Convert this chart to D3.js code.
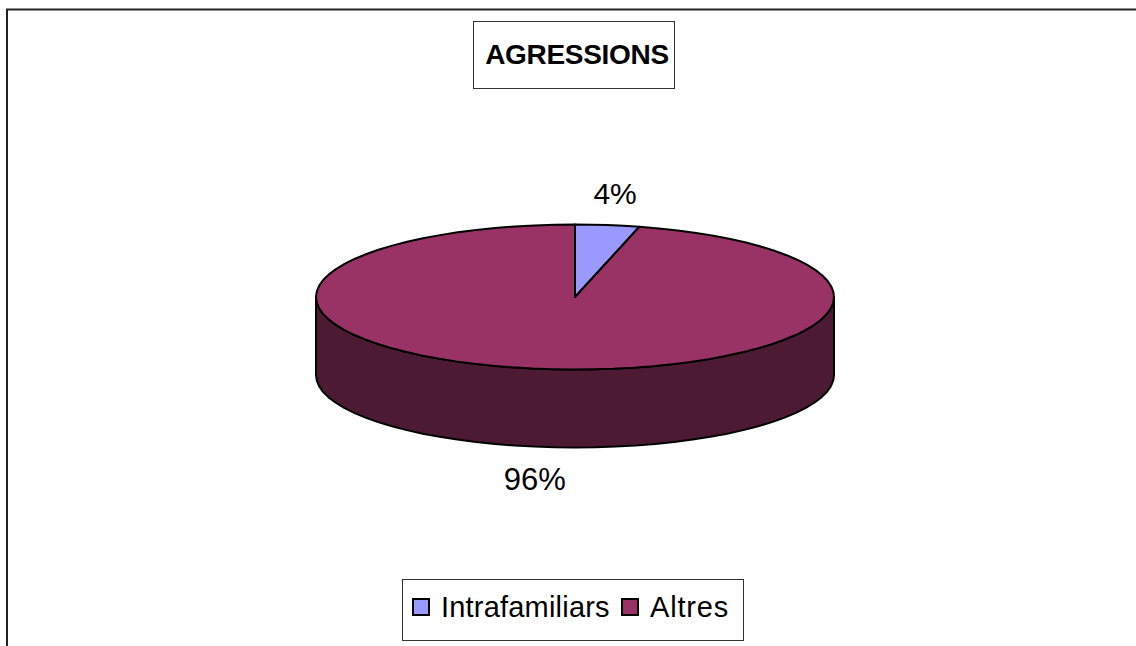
<!DOCTYPE html>
<html>
<head>
<meta charset="utf-8">
<script src="https://cdn.jsdelivr.net/npm/d3@7"></script>
<style>
  html, body { margin: 0; padding: 0; background: #fff; }
  svg { display: block; }
</style>
</head>
<body>
<svg id="chart" width="1136" height="646"></svg>
<script>
const title = "AGRESSIONS";
const categories = ["Intrafamiliars", "Altres"];
const values = [4, 96];
const labels = ["4%", "96%"];
const topColors = ["#9999FF", "#993366"];
const sideColors = ["#4D4D80", "#4C1A33"];

const svg = d3.select("#chart");
const font = "'Liberation Sans', Arial, sans-serif";

// outer frame (right and bottom run past the picture)
svg.append("rect")
  .attr("x", 7).attr("y", 9.5).attr("width", 1140).attr("height", 650)
  .attr("fill", "none").attr("stroke", "#222").attr("stroke-width", 2);

// title box
svg.append("rect")
  .attr("x", 473.5).attr("y", 21.5).attr("width", 201).attr("height", 67)
  .attr("fill", "#fff").attr("stroke", "#333").attr("stroke-width", 1);
svg.append("text")
  .attr("x", 577).attr("y", 64)
  .attr("text-anchor", "middle")
  .attr("font-family", font).attr("font-weight", "bold")
  .attr("font-size", 28).attr("letter-spacing", -0.3)
  .text(title);

// 3D pie geometry
const cx = 575, cy = 297, rx = 259, ry = 72.5, depth = 78;
const pie = d3.pie().sort(null).value(d => d);
const arcs = pie(values);

const px = a => cx + rx * Math.sin(a);
const py = a => cy - ry * Math.cos(a);

function ellipsePts(a0, a1, dy) {
  const n = Math.max(2, Math.ceil(Math.abs(a1 - a0) / (Math.PI / 40)));
  const pts = [];
  for (let i = 0; i <= n; i++) {
    const a = a0 + (a1 - a0) * i / n;
    pts.push([px(a), py(a) + dy]);
  }
  return pts;
}

const line = d3.line();

// side walls (front half only: angles pi/2 .. 3pi/2)
arcs.forEach((d, i) => {
  const s = Math.max(d.startAngle, Math.PI / 2);
  const e = Math.min(d.endAngle, 3 * Math.PI / 2);
  if (e <= s) return;
  const top = ellipsePts(s, e, 0);
  const bot = ellipsePts(e, s, depth);
  svg.append("path")
    .attr("d", line(top.concat(bot)) + "Z")
    .attr("fill", sideColors[i])
    .attr("stroke", "#000").attr("stroke-width", 2).attr("stroke-linejoin", "round");
});

// top faces
arcs.forEach((d, i) => {
  const pts = [[cx, cy]].concat(ellipsePts(d.startAngle, d.endAngle, 0));
  svg.append("path")
    .attr("d", line(pts) + "Z")
    .attr("fill", topColors[i])
    .attr("stroke", "#000").attr("stroke-width", 2).attr("stroke-linejoin", "round");
});

// data labels
const lrx = 320, lry = 105;
const labelSizes = [30, 31];
arcs.forEach((d, i) => {
  const m = (d.startAngle + d.endAngle) / 2;
  const c = Math.cos(m);
  const x = cx + lrx * Math.sin(m);
  const y = cy - lry * c + (c < 0 ? depth : 0);
  svg.append("text")
    .attr("x", x).attr("y", y).attr("dy", "0.36em")
    .attr("text-anchor", "middle")
    .attr("font-family", font).attr("font-size", labelSizes[i])
    .text(labels[i]);
});

// legend
svg.append("rect")
  .attr("x", 402.5).attr("y", 579.5).attr("width", 341).attr("height", 61)
  .attr("fill", "#fff").attr("stroke", "#333").attr("stroke-width", 1);
const legX = [413, 622];
categories.forEach((c, i) => {
  svg.append("rect")
    .attr("x", legX[i]).attr("y", 599).attr("width", 16).attr("height", 16)
    .attr("fill", topColors[i]).attr("stroke", "#000").attr("stroke-width", 2);
  svg.append("text")
    .attr("x", legX[i] + 28).attr("y", 617)
    .attr("font-family", font).attr("font-size", 29)
    .attr("letter-spacing", i === 1 ? 0.8 : 0.2)
    .text(c);
});
</script>
</body>
</html>
